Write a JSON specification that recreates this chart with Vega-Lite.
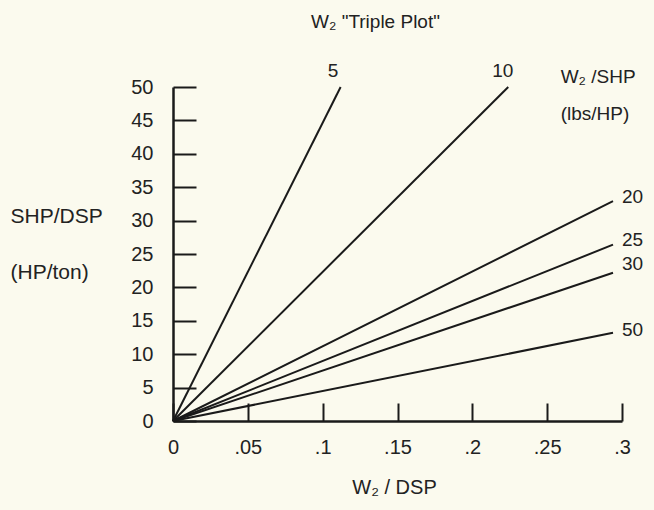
{
  "$schema": "https://vega.github.io/schema/vega-lite/v6.json",
  "width": 449,
  "height": 334,
  "autosize": "none",
  "padding": {"left": 173, "top": 87, "right": 32, "bottom": 89},
  "background": "#fbfaee",
  "config": {"view": {"stroke": null}, "font": "Liberation Sans"},
  "title": {
    "text": "W₂  \"Triple Plot\"",
    "anchor": "middle",
    "dx": -22,
    "offset": 15,
    "baseline": "alphabetic",
    "fontSize": 19,
    "fontWeight": "normal",
    "font": "Liberation Sans Narrow, Liberation Sans",
    "color": "#222222"
  },
  "datasets": {
    "lines": [
      {"ratio": "5", "w2dsp": 0, "shpdsp": 0},
      {"ratio": "5", "w2dsp": 0.112, "shpdsp": 50},
      {"ratio": "10", "w2dsp": 0, "shpdsp": 0},
      {"ratio": "10", "w2dsp": 0.224, "shpdsp": 50},
      {"ratio": "20", "w2dsp": 0, "shpdsp": 0},
      {"ratio": "20", "w2dsp": 0.294, "shpdsp": 32.9},
      {"ratio": "25", "w2dsp": 0, "shpdsp": 0},
      {"ratio": "25", "w2dsp": 0.294, "shpdsp": 26.4},
      {"ratio": "30", "w2dsp": 0, "shpdsp": 0},
      {"ratio": "30", "w2dsp": 0.294, "shpdsp": 22.2},
      {"ratio": "50", "w2dsp": 0, "shpdsp": 0},
      {"ratio": "50", "w2dsp": 0.294, "shpdsp": 13.2}
    ],
    "topLabels": [
      {"label": "5", "w2dsp": 0.107, "shpdsp": 52.4},
      {"label": "10", "w2dsp": 0.2204, "shpdsp": 52.4}
    ],
    "sideLabels": [
      {"label": "20", "w2dsp": 0.3, "shpdsp": 33.5},
      {"label": "25", "w2dsp": 0.3, "shpdsp": 27.1},
      {"label": "30", "w2dsp": 0.3, "shpdsp": 23.5},
      {"label": "50", "w2dsp": 0.3, "shpdsp": 13.6},
      {"label": "W₂ /SHP", "w2dsp": 0.259, "shpdsp": 51.5},
      {"label": "(lbs/HP)", "w2dsp": 0.259, "shpdsp": 46.0}
    ]
  },
  "encoding": {
    "x": {
      "field": "w2dsp",
      "type": "quantitative",
      "scale": {"domain": [0, 0.3], "nice": false},
      "axis": {
        "values": [0, 0.05, 0.1, 0.15, 0.2, 0.25, 0.3],
        "labelExpr": "datum.value == 0 ? '0' : replace(format(datum.value, '.2~f'), '0.', '.')",
        "grid": false,
        "domainColor": "#1a1a1a",
        "domainWidth": 2.5,
        "tickColor": "#1a1a1a",
        "tickWidth": 2,
        "tickSize": -18,
        "labelPadding": 34,
        "labelBaseline": "top",
        "labelFontSize": 20,
        "labelColor": "#222222",
        "labelFlush": false,
        "labelOverlap": false,
        "title": "W₂ / DSP",
        "titleFont": "Liberation Sans Narrow, Liberation Sans",
        "titleFontSize": 20,
        "titleFontWeight": "normal",
        "titleColor": "#222222",
        "titleX": 221,
        "titleY": 72,
        "titleBaseline": "alphabetic",
        "titleAlign": "center"
      }
    },
    "y": {
      "field": "shpdsp",
      "type": "quantitative",
      "scale": {"domain": [0, 50], "nice": false},
      "axis": {
        "values": [0, 5, 10, 15, 20, 25, 30, 35, 40, 45, 50],
        "tickCount": 11,
        "grid": false,
        "domainColor": "#1a1a1a",
        "domainWidth": 2.5,
        "tickColor": "#1a1a1a",
        "tickWidth": 2,
        "tickSize": -23,
        "labelPadding": 43,
        "labelFontSize": 20,
        "labelColor": "#222222",
        "labelFlush": false,
        "labelOverlap": false,
        "title": ["SHP/DSP", "(HP/ton)"],
        "titleAngle": 0,
        "titleFont": "Liberation Sans Narrow, Liberation Sans",
        "titleFontSize": 21,
        "titleFontWeight": "normal",
        "titleColor": "#222222",
        "titleAlign": "left",
        "titleBaseline": "alphabetic",
        "titleLineHeight": 56,
        "titleX": -163,
        "titleY": 135
      }
    }
  },
  "layer": [
    {
      "data": {"name": "lines"},
      "mark": {"type": "line", "color": "#1a1a1a", "strokeWidth": 2},
      "encoding": {
        "detail": {"field": "ratio"}
      }
    },
    {
      "data": {"name": "topLabels"},
      "mark": {"type": "text", "align": "center", "baseline": "middle", "fontSize": 19, "font": "Liberation Sans Narrow, Liberation Sans", "color": "#222222"},
      "encoding": {
        "text": {"field": "label"}
      }
    },
    {
      "data": {"name": "sideLabels"},
      "mark": {"type": "text", "align": "left", "baseline": "middle", "fontSize": 19, "font": "Liberation Sans Narrow, Liberation Sans", "color": "#222222"},
      "encoding": {
        "text": {"field": "label"}
      }
    }
  ]
}
